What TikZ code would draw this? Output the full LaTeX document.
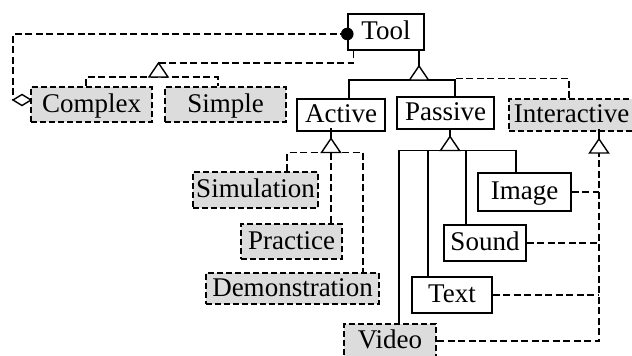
\documentclass[tikz,border=0pt]{standalone}
\usepackage{fontspec}
\setmainfont{Liberation Serif}
\usetikzlibrary{calc}
\definecolor{abstractfill}{RGB}{220,220,220}
\begin{document}
\begin{tikzpicture}[x=1pt,y=-1pt,
  font=\fontsize{27}{30}\selectfont,
  cls/.style 2 args={draw, line width=1.5pt, inner sep=0pt,
    text height=18.4pt, text depth=2.7pt,
    minimum width=#1, minimum height=#2},
  abs/.style 2 args={cls={#1}{#2}, fill=abstractfill,
    dash pattern=on 6pt off 3pt, line width=2pt},
  link/.style={line width=1.4pt},
  dlink/.style={link, dash pattern=on 7pt off 3.5pt},
  gen/.pic={\draw[solid, line width=1.4pt, fill=white]
    (-9.5,0) -- (9.5,0) -- (0,-14) -- cycle;}
]
\useasboundingbox (0,0) rectangle (632,356);

% classes
\node[cls={76pt}{36pt}]  (Tool)          at (386,32)      {Tool};
\node[abs={121pt}{35pt}] (Complex)       at (91.5,104.5)  {Complex};
\node[abs={121pt}{35pt}] (Simple)        at (225.5,104.5) {Simple};
\node[cls={88pt}{32pt}]  (Active)        at (341,115)     {Active};
\node[cls={97pt}{32pt}]  (Passive)       at (445.5,113)   {Passive};
\node[abs={125pt}{32pt}] (Interactive)   at (571.5,115)   {Interactive};
\node[abs={125pt}{36pt}] (Simulation)    at (255.5,190)   {Simulation};
\node[abs={101pt}{35pt}] (Practice)      at (291.5,241.5) {Practice};
\node[abs={173pt}{31pt}] (Demonstration) at (292.5,288.5) {Demonstration};
\node[abs={92pt}{34pt}]  (Video)         at (390,341)     {Video};
\node[cls={93pt}{38pt}]  (Image)         at (524.5,192)   {Image};
\node[cls={82pt}{36pt}]  (Sound)         at (485,243)     {Sound};
\node[cls={80pt}{36pt}]  (Text)          at (452,295)     {Text};

% junctions (base centres of the generalization triangles)
\coordinate (jCS)  at (158.5,77);
\coordinate (jAP)  at (419,80);
\coordinate (jAct) at (331,152.5);
\coordinate (jPas) at (450,150.5);
\coordinate (jInt) at (599,153);

% attachment points on the class boxes
\coordinate (agg)   at ($(Complex.west)+(-17,-4.5)$);
\coordinate (tRoot) at ($(Tool.west)+(0,2)$);
\coordinate (pTop)  at ($(Passive.north)+(9.5,0)$);
\coordinate (tTop)  at ($(Text.north)+(-24,0)$);
\coordinate (sTop)  at ($(Sound.north)+(-19,0)$);

% Tool -- Complex aggregation
\draw[dlink] (tRoot) -| (agg);
\draw[solid, line width=1.4pt, fill=white]
  (agg) -- ++(9,-5.5) -- ++(9,5.5) -- ++(-9,5.5) -- cycle;
\fill (tRoot) circle (6.3pt);

% Complex, Simple -> Tool
\draw[dlink] ($(Complex.north)+(-5.5,0)$) |- (jCS) -| ($(Simple.north)+(-7.5,0)$);
\draw[dlink] ($(jCS)+(0,-14)$) -| ($(Tool.south west)+(6,0)$);

% Active, Passive, Interactive -> Tool
\draw[link] ($(Active.north)+(8,0)$) |- (jAP) -| (pTop);
\draw[dlink] ($(Interactive.north)+(-2.5,0)$) |- ($(pTop|-jAP)+(0,-1.5)$);
\draw[link] ($(jAP)+(0,-14)$) -- (jAP |- Tool.south);

% Simulation, Practice, Demonstration -> Active
\draw[dlink] ($(Simulation.north)+(31.5,0)$) |- (jAct)
  -| ($(Demonstration.north east)+(-17,0)$);
\draw[dlink] (jAct) -- (jAct |- Practice.north);
\draw[link] ($(jAct)+(0,-14)$) -- ($(jAct |- Active.south)+(0,-4)$);

% Video, Text, Sound, Image -> Passive
\draw[link] ($(Video.north)+(9,0)$) |- (jPas) -| ($(Image.north)+(-8.5,0)$);
\draw[link] (tTop) -- (tTop |- jPas);
\draw[link] (sTop) -- (sTop |- jPas);
\draw[link] ($(jPas)+(0,-14)$) -- (jPas |- Passive.south);

% Image, Sound, Text, Video -> Interactive
\draw[dlink] (Video.east) -| (jInt);
\draw[dlink] (Image.east) -- (Image.east -| jInt);
\draw[dlink] (Sound.east) -- (Sound.east -| jInt);
\draw[dlink] (Text.east) -- (Text.east -| jInt);
\draw[link] ($(jInt)+(0,-12)$) -- ($(jInt |- Interactive.south)+(0,-3)$);

% generalization triangles
\pic at (jCS) {gen};
\pic at (jAP) {gen};
\pic at (jAct) {gen};
\pic at (jPas) {gen};
\pic at (jInt) {gen};
\end{tikzpicture}
\end{document}
